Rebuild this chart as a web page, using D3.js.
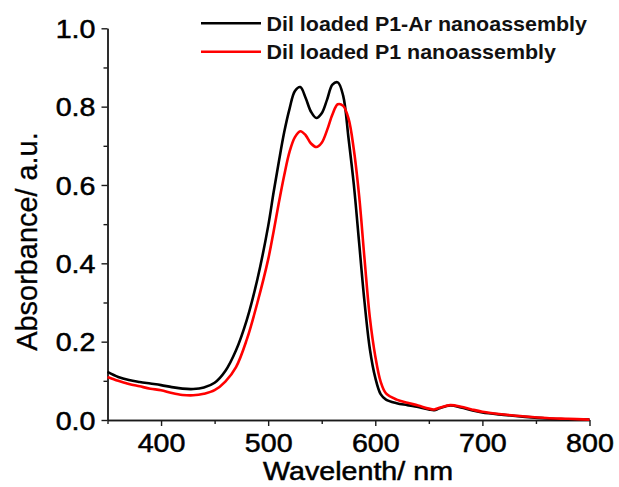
<!DOCTYPE html>
<html>
<head>
<meta charset="utf-8">
<script src="https://cdn.jsdelivr.net/npm/d3@7"></script>
<style>
  body { margin: 0; background: #fff; }
  svg { display: block; }
</style>
</head>
<body>
<svg id="chart" width="619" height="487"></svg>
<script>
/* global d3 */
'use strict';

// wavelength grid (nm) shared by both spectra
const wavelengths = [350, 360, 370, 380, 390, 400, 410, 420, 430, 440, 450, 460, 470, 480, 490,
  500, 505, 510, 515, 520, 525, 530, 535, 540, 545, 550, 555, 560, 565, 570, 575, 580, 585, 590,
  595, 600, 605, 610, 620, 630, 640, 650, 655, 660, 670, 680, 690, 700, 720, 740, 760, 780, 800];

// DiI loaded P1-Ar nanoassembly
const p1ArAbs = [0.123, 0.110, 0.102, 0.097, 0.093, 0.089, 0.084, 0.080, 0.079, 0.083, 0.095, 0.125, 0.178, 0.255, 0.360,
  0.495, 0.580, 0.660, 0.735, 0.795, 0.840, 0.850, 0.822, 0.787, 0.771, 0.783, 0.818, 0.856, 0.862, 0.828, 0.720, 0.600, 0.450, 0.300,
  0.180, 0.108, 0.066, 0.052, 0.043, 0.038, 0.033, 0.027, 0.025, 0.030, 0.037, 0.032, 0.025, 0.019, 0.013, 0.008, 0.004, 0.002, 0.001];

// DiI loaded P1 nanoassembly
const p1Abs = [0.110, 0.100, 0.092, 0.086, 0.080, 0.076, 0.069, 0.064, 0.063, 0.067, 0.076, 0.098, 0.135, 0.205, 0.300,
  0.410, 0.480, 0.555, 0.625, 0.685, 0.722, 0.737, 0.727, 0.706, 0.697, 0.708, 0.740, 0.780, 0.806, 0.802, 0.770, 0.690, 0.570, 0.410,
  0.260, 0.163, 0.098, 0.068, 0.052, 0.044, 0.037, 0.029, 0.027, 0.031, 0.038, 0.034, 0.027, 0.021, 0.014, 0.009, 0.005, 0.003, 0.001];

const seriesNames = ['Dil loaded P1-Ar nanoassembly', 'Dil loaded P1 nanoassembly'];
const seriesColors = ['#000000', '#ff0000'];

const xTicks = [400, 500, 600, 700, 800];
const xMinorTicks = [350, 450, 550, 650, 750];
const yTicks = [0.0, 0.2, 0.4, 0.6, 0.8, 1.0];
const yMinorTicks = [0.1, 0.3, 0.5, 0.7, 0.9];

const svg = d3.select('#chart');
const plot = { left: 107.5, right: 589.5, top: 28.3, bottom: 420 };
const stretch = 1.12;   // text in the source is a bit wider than tall
const fontFamily = '"Liberation Sans", Arial, sans-serif';

const x = d3.scaleLinear().domain([350, 800]).range([plot.left, plot.right]);
const y = d3.scaleLinear().domain([0, 1]).range([plot.bottom, plot.top]);

// axes
const xAxis = svg.append('g')
  .attr('transform', `translate(0,${plot.bottom})`)
  .call(d3.axisBottom(x).tickValues(xTicks).tickSize(6).tickSizeOuter(0).tickPadding(8));
svg.append('g')
  .attr('transform', `translate(0,${plot.bottom})`)
  .call(d3.axisBottom(x).tickValues(xMinorTicks).tickSize(4).tickSizeOuter(0).tickFormat(''));

const yAxis = svg.append('g')
  .attr('transform', `translate(${plot.left},0)`)
  .call(d3.axisLeft(y).tickValues(yTicks).tickSize(6).tickSizeOuter(0).tickFormat(d3.format('.1f')));
svg.append('g')
  .attr('transform', `translate(${plot.left},0)`)
  .call(d3.axisLeft(y).tickValues(yMinorTicks).tickSize(4).tickSizeOuter(0).tickFormat(''));

svg.selectAll('.domain, .tick line')
  .attr('stroke', '#1a1a1a')
  .attr('stroke-width', 1.4);

svg.selectAll('.tick text')
  .attr('font-family', fontFamily)
  .attr('font-size', 25.6)
  .attr('fill', '#000')
  .attr('stroke', '#000')
  .attr('stroke-width', 0.5);

xAxis.selectAll('.tick text')
  .attr('transform', `scale(${stretch},1)`);
yAxis.selectAll('.tick text')
  .attr('x', -12 / stretch)
  .attr('dy', '0.36em')
  .attr('transform', `scale(${stretch},1)`);

// axis titles
svg.append('text')
  .attr('transform', `translate(358,480) scale(${stretch},1)`)
  .attr('text-anchor', 'middle')
  .attr('font-family', fontFamily)
  .attr('font-size', 25.6)
  .attr('stroke', '#000')
  .attr('stroke-width', 0.5)
  .text('Wavelenth/ nm');

svg.append('text')
  .attr('transform', 'translate(37,241.5) rotate(-90)')
  .attr('text-anchor', 'middle')
  .attr('font-family', fontFamily)
  .attr('font-size', 28.9)
  .attr('stroke', '#000')
  .attr('stroke-width', 0.3)
  .text('Absorbance/ a.u.');

// spectra
const line = d3.line()
  .x(d => x(d[0]))
  .y(d => y(d[1]))
  .curve(d3.curveCatmullRom.alpha(0.5));

[p1ArAbs, p1Abs].forEach((vals, i) => {
  svg.append('path')
    .datum(wavelengths.map((w, j) => [w, vals[j]]))
    .attr('fill', 'none')
    .attr('stroke', seriesColors[i])
    .attr('stroke-width', 2.6)
    .attr('stroke-linejoin', 'round')
    .attr('d', line);
});

// legend
const legend = svg.append('g');
seriesNames.forEach((name, i) => {
  const ly = 23.3 + i * 28.4;
  legend.append('line')
    .attr('x1', 201).attr('x2', 261)
    .attr('y1', ly).attr('y2', ly)
    .attr('stroke', seriesColors[i])
    .attr('stroke-width', 2.6);
  legend.append('text')
    .attr('transform', `translate(266.5,${ly + 7.3}) scale(1.1,1)`)
    .attr('font-family', fontFamily)
    .attr('font-size', 19.5)
    .attr('font-weight', 'bold')
    .attr('fill', '#111')
    .text(name);
});
</script>
</body>
</html>
